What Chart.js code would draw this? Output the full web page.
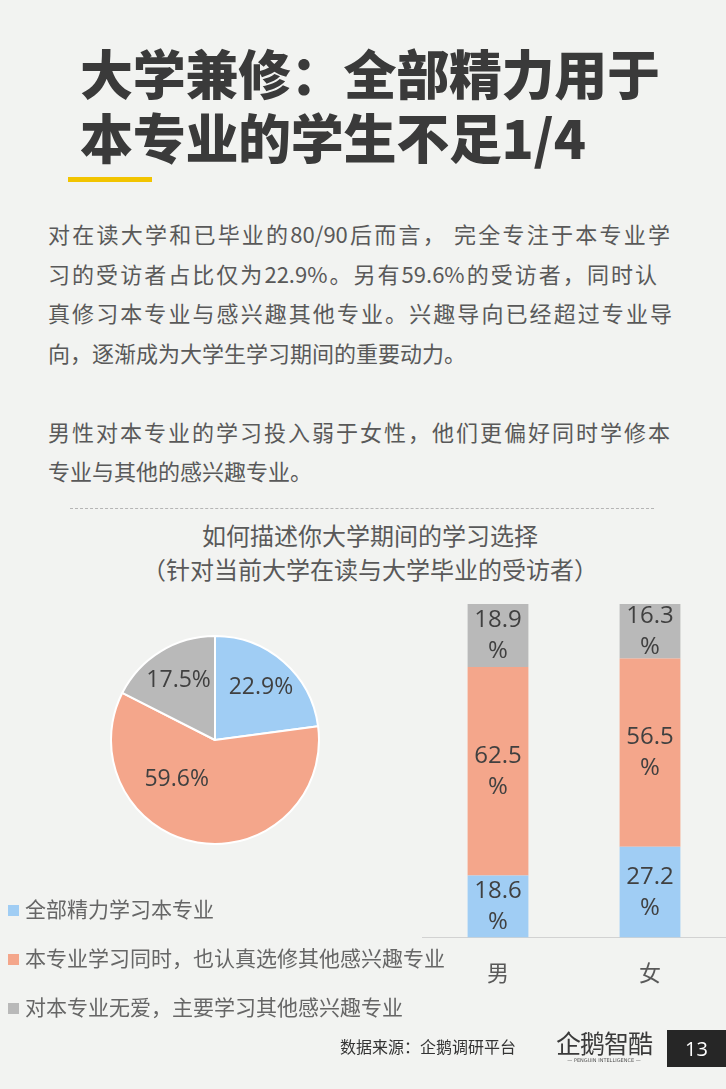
<!DOCTYPE html>
<html>
<head>
<meta charset="utf-8">
<script src="https://cdn.jsdelivr.net/npm/chart.js@4/dist/chart.umd.min.js"></script>
<style>
  html, body { margin: 0; padding: 0; }
  body {
    width: 726px; height: 1089px; position: relative; overflow: hidden;
    background: #f2f3f1; font-family: "Noto Sans CJK SC", "Noto Sans", sans-serif;
  }
  .title {
    position: absolute; left: 80px; top: 40px;
    font-size: 53px; font-weight: 900; line-height: 64px; color: #3a3a3a;
    letter-spacing: -0.3px; white-space: nowrap;
  }
  .underline { position: absolute; left: 68px; top: 177px; width: 84px; height: 5px; background: #f2c400; }
  .para {
    position: absolute; left: 48px; top: 214px;
    font-size: 22px; line-height: 39.5px; color: #595959; white-space: nowrap;
  }
  .para .j { text-align: justify; text-align-last: justify; }
  .dash { position: absolute; left: 70px; top: 508px; width: 584px; border-top: 1px dashed #b5b5b5; }
  .ctitle {
    position: absolute; left: 0; width: 740px; top: 518px; text-align: center;
    font-size: 24px; line-height: 34px; color: #595959;
  }
  #pieWrap { position: absolute; left: 110px; top: 635px; width: 210px; height: 210px; }
  #barWrap { position: absolute; left: 422px; top: 600px; width: 304px; height: 400px; }
  .legend { position: absolute; left: 8px; top: 893px; font-size: 21px; color: #666; }
  .legend div { height: 49px; line-height: 30px; white-space: nowrap; }
  .legend span.sw { display: inline-block; width: 11px; height: 11px; margin-right: 6px; vertical-align: 1px; }
  .source { position: absolute; left: 340px; top: 1034px; font-size: 16px; color: #333; }
  .logo { position: absolute; left: 552px; top: 1028px; width: 104px; text-align: center; color: #3a3a3a; white-space: nowrap; }
  .logo .big { font-size: 25px; line-height: 28px; letter-spacing: -1px; }
  .logo .small { font-family: "DejaVu Sans"; font-size: 5px; line-height: 8px; color: #555; }
  .page {
    position: absolute; left: 667px; top: 1030px; width: 59px; height: 37px;
    background: #262626; color: #fff; font-family: "Open Sans"; font-size: 20px;
    line-height: 37px; text-align: center;
  }
</style>
</head>
<body>
<div class="title">大学兼修：全部精力用于<br>本专业的学生不足1/4</div>
<div class="underline"></div>
<div class="para">
  <div class="j" style="width:622px">对在读大学和已毕业的80/90后而言， 完全专注于本专业学</div>
  <div class="j" style="width:609px">习的受访者占比仅为22.9%。另有59.6%的受访者，同时认</div>
  <div class="j" style="width:624px">真修习本专业与感兴趣其他专业。兴趣导向已经超过专业导</div>
  <div>向，逐渐成为大学生学习期间的重要动力。</div>
  <div>&nbsp;</div>
  <div class="j" style="width:622px">男性对本专业的学习投入弱于女性，他们更偏好同时学修本</div>
  <div>专业与其他的感兴趣专业。</div>
</div>
<div class="dash"></div>
<div class="ctitle">如何描述你大学期间的学习选择<br>（针对当前大学在读与大学毕业的受访者）</div>

<div id="pieWrap"><canvas id="pieChart"></canvas></div>
<div id="barWrap"><canvas id="barChart"></canvas></div>

<div class="legend" id="legend"></div>

<div class="source">数据来源：企鹅调研平台</div>
<div class="logo"><div class="big">企鹅智酷</div><div class="small">— PENGUIN INTELLIGENCE —</div></div>
<div class="page">13</div>

<script>
const seriesNames = ['全部精力学习本专业', '本专业学习同时，也认真选修其他感兴趣专业', '对本专业无爱，主要学习其他感兴趣专业'];
const seriesColors = ['#a0cdf4', '#f4a68b', '#b9b9b9'];
const pieValues = [22.9, 59.6, 17.5];
const genders = ['男', '女'];
const focusValues = [18.6, 27.2];
const bothValues = [62.5, 56.5];
const otherValues = [18.9, 16.3];

document.getElementById('legend').innerHTML = seriesNames
  .map((name, i) => `<div><span class="sw" style="background:${seriesColors[i]}"></span>${name}</div>`)
  .join('');

const labelColor = '#404040';

// pie value labels, placed along each slice's mid angle
const pieLabels = {
  id: 'pieLabels',
  afterDatasetsDraw(chart, args, opts) {
    const ctx = chart.ctx;
    const meta = chart.getDatasetMeta(0);
    ctx.save();
    ctx.font = '23px "Open Sans", "Noto Sans", sans-serif';
    ctx.fillStyle = labelColor;
    ctx.textAlign = 'center';
    ctx.textBaseline = 'middle';
    meta.data.forEach((arc, i) => {
      const mid = (arc.startAngle + arc.endAngle) / 2 + (opts.turn[i] || 0);
      const r = arc.outerRadius * opts.dist[i];
      ctx.fillText(pieValues[i].toFixed(1) + '%', arc.x + Math.cos(mid) * r, arc.y + Math.sin(mid) * r);
    });
    ctx.restore();
  }
};

new Chart(document.getElementById('pieChart'), {
  type: 'pie',
  data: {
    labels: seriesNames,
    datasets: [{ data: pieValues, backgroundColor: seriesColors, borderColor: '#ffffff', borderWidth: 2 }]
  },
  options: {
    responsive: true,
    maintainAspectRatio: false,
    animation: false,
    layout: { padding: 0 },
    plugins: {
      legend: { display: false },
      tooltip: { enabled: false },
      pieLabels: { dist: [0.67, 0.53, 0.67], turn: [0, 0.6, 0] }
    }
  },
  plugins: [pieLabels]
});

// bar value labels, wrapped in two lines like the narrow columns
const barLabels = {
  id: 'barLabels',
  afterDatasetsDraw(chart) {
    const ctx = chart.ctx;
    ctx.save();
    ctx.font = '24px "Open Sans", "Noto Sans", sans-serif';
    ctx.fillStyle = labelColor;
    ctx.textAlign = 'center';
    ctx.textBaseline = 'middle';
    chart.data.datasets.forEach((ds, d) => {
      chart.getDatasetMeta(d).data.forEach((bar, i) => {
        const cy = (bar.y + bar.base) / 2;
        ctx.fillText(ds.data[i].toFixed(1), bar.x, cy - 15.5);
        ctx.fillText('%', bar.x, cy + 15.5);
      });
    });
    ctx.restore();
  }
};

new Chart(document.getElementById('barChart'), {
  type: 'bar',
  data: {
    labels: genders,
    datasets: [
      { label: seriesNames[0], data: focusValues, backgroundColor: seriesColors[0] },
      { label: seriesNames[1], data: bothValues, backgroundColor: seriesColors[1] },
      { label: seriesNames[2], data: otherValues, backgroundColor: seriesColors[2] }
    ]
  },
  options: {
    responsive: true,
    maintainAspectRatio: false,
    animation: false,
    layout: { padding: { top: 4, left: 0, right: 0 } },
    datasets: { bar: { barPercentage: 1, categoryPercentage: 0.4 } },
    plugins: { legend: { display: false }, tooltip: { enabled: false } },
    scales: {
      x: {
        stacked: true,
        grid: { display: false },
        border: { display: true, color: '#d2d2d2', width: 1 },
        ticks: { color: '#595959', font: { size: 22, family: '"Noto Sans CJK SC"' }, padding: 14 }
      },
      y: { stacked: true, display: false, min: 0, max: 100 }
    }
  },
  plugins: [barLabels]
});
</script>
</body>
</html>
